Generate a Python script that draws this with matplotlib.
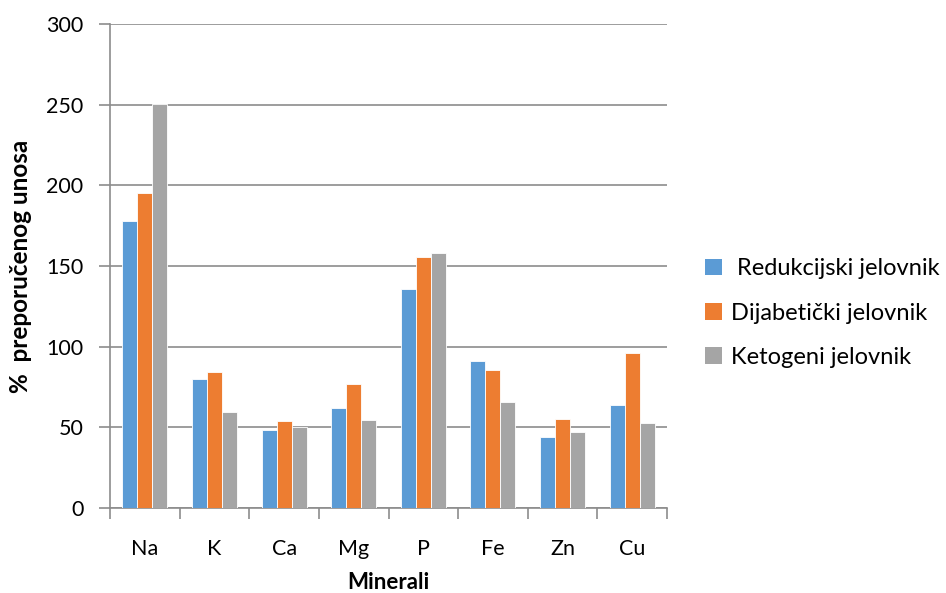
import matplotlib
matplotlib.use("Agg")
import matplotlib.pyplot as plt
import numpy as np
from matplotlib.patches import Patch

plt.rcParams['font.family'] = ['Lato', 'DejaVu Sans']

categories = ["Na", "K", "Ca", "Mg", "P", "Fe", "Zn", "Cu"]
redukcijski = [177.7, 79.8, 48.5, 61.8, 135.7, 91.3, 43.8, 63.6]
dijabeticki = [195.1, 84.3, 53.9, 76.9, 155.4, 85.5, 55.4, 96.1]
ketogeni = [250.5, 59.3, 50.2, 54.5, 158.0, 65.5, 46.9, 52.5]
series_names = [" Redukcijski jelovnik", "Dijabetički jelovnik", "Ketogeni jelovnik"]
colors = ["#5B9BD5", "#ED7D31", "#A5A5A5"]

fig = plt.figure(figsize=(9.46, 5.93), dpi=100)
ax = fig.add_axes([110/946, 1-508/593, (667-110)/946, (508-24)/593])

x = np.arange(len(categories))
w = 0.2155
for i, (vals, c) in enumerate(zip([redukcijski, dijabeticki, ketogeni], colors)):
    ax.bar(x + (i-1)*w, vals, width=w, color=c, edgecolor='white', linewidth=0.6, zorder=3)

ax.set_xlim(-0.5, len(categories)-0.5)
ax.set_ylim(0, 300)
ax.set_yticks(np.arange(0, 301, 50))
ax.yaxis.grid(True, color='#8c8c8c', linewidth=1.2, zorder=0)
ax.set_xticks(x)
ax.set_xticklabels(categories)
ax.set_xticks(np.arange(-0.5, len(categories), 1), minor=True)
ax.tick_params(axis='x', which='major', length=0, labelsize=15.5, pad=22)
ax.tick_params(axis='x', which='minor', length=8, width=1.2, color='#8c8c8c')
ax.tick_params(axis='y', length=8, width=1.2, color='#8c8c8c', labelsize=15.5, pad=11)
for s in ['top', 'right']:
    ax.spines[s].set_visible(False)
for s in ['left', 'bottom']:
    ax.spines[s].set_color('#8c8c8c')
    ax.spines[s].set_linewidth(1.2)

ax.set_xlabel("Minerali", fontsize=16, fontweight='bold', labelpad=10)
ax.set_ylabel("%  preporučenog unosa", fontsize=17.5, fontweight='bold', labelpad=10)

handles = [Patch(facecolor=c, edgecolor='none') for c in colors]
fig.legend(handles, series_names, loc='center left', bbox_to_anchor=(684/946, 1-313/593),
           frameon=False, fontsize=17, handlelength=0.7, handleheight=0.7,
           handletextpad=0.4, labelspacing=0.98)

fig.savefig("out.png", dpi=100)
